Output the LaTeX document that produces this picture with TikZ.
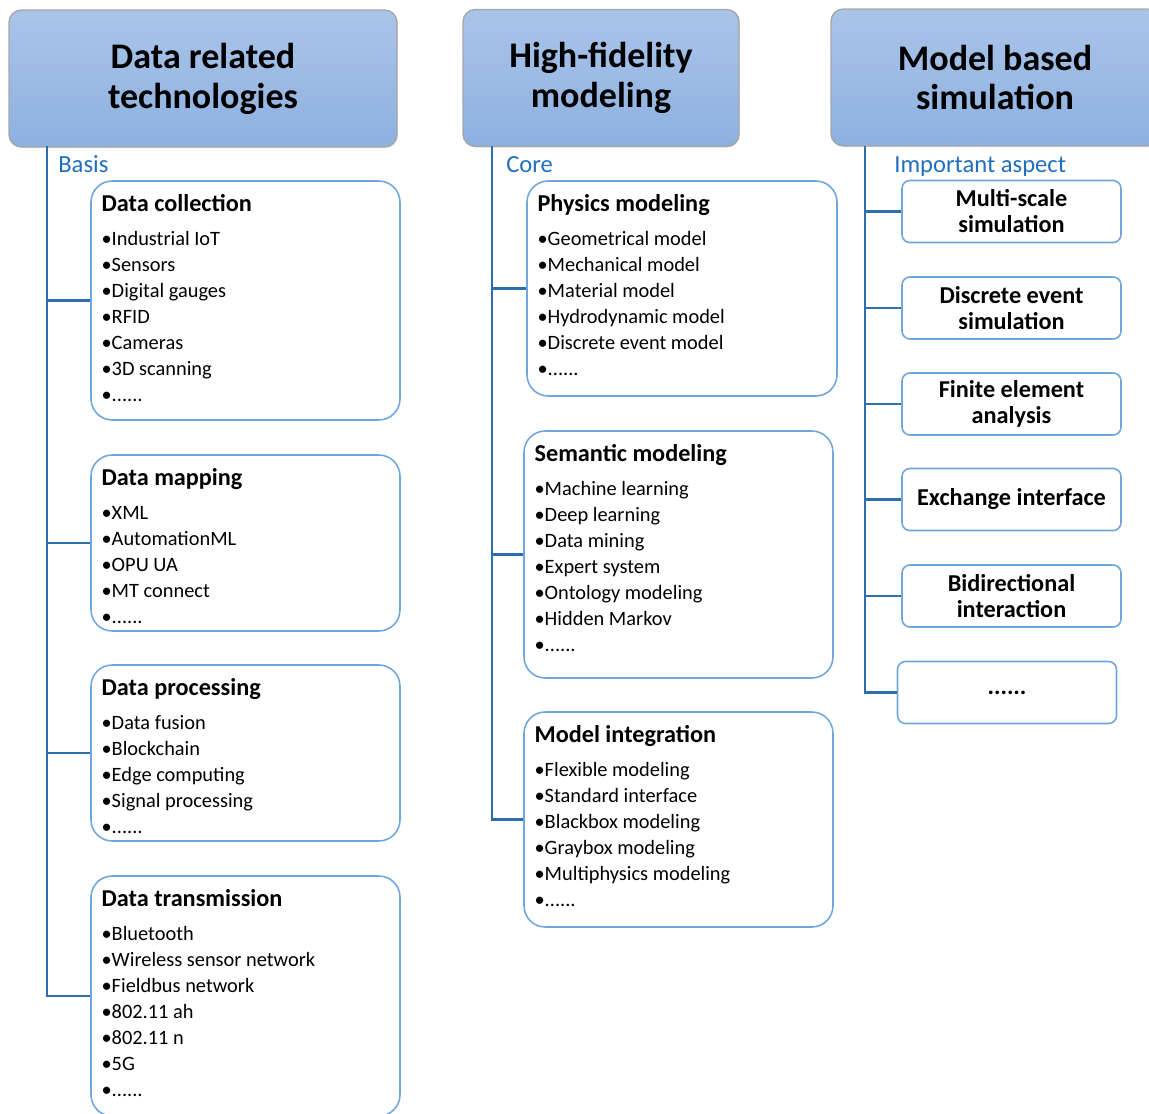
\documentclass[tikz,border=0pt]{standalone}
\usepackage{fontspec}
\setmainfont{Carlito}
\usetikzlibrary{positioning}
\usetikzlibrary{shadows}

\definecolor{headtop}{HTML}{AAC4E9}
\definecolor{headbot}{HTML}{8DB1E0}
\definecolor{boxline}{HTML}{6FA6DC}
\definecolor{treeline}{HTML}{2E6DB0}
\definecolor{labelblue}{HTML}{1F6FC0}

\begin{document}
\begin{tikzpicture}[x=0.02cm,y=-0.02cm,
    head/.style={rectangle,rounded corners=7pt,draw=gray!70,line width=0.8pt,
      top color=headtop,bottom color=headbot,minimum height=2.74cm,
      align=center,font=\fontsize{20.5}{22.7}\selectfont\bfseries,
      drop shadow={opacity=0.2,shadow xshift=0.6pt,shadow yshift=-0.6pt}},
    group/.style={rectangle,rounded corners=12pt,draw=boxline,line width=0.9pt},
    aspect/.style={rectangle,rounded corners=4.5pt,draw=boxline,line width=0.9pt,
      minimum width=4.38cm,minimum height=1.24cm,align=center,
      font=\fontsize{13.8}{14.75}\selectfont\bfseries},
    list/.style={align=left,inner sep=0pt,font=\fontsize{11.6}{14.75}\selectfont},
    tag/.style={anchor=base west,inner sep=0pt,text=labelblue,font=\fontsize{14}{16}\selectfont},
    link/.style={draw=treeline,line width=1.3pt}]
  \useasboundingbox (0,0) rectangle (1149,1114);

  % headers
  \node[head,minimum width=7.76cm] (h1) at (203,78.5) {Data related\\technologies};
  \node[head,minimum width=5.52cm] (h2) at (601,78) {High-fidelity\\modeling};
  \node[head,minimum width=6.56cm] (h3) at (995,77.5) {Model based\\simulation};

  \node[tag] (basis) at (58,173) {Basis};
  \node[tag] (core) at (506,173) {Core};
  \node[tag] (important) at (894,173) {Important aspect};

  % data related technologies
  \node[group,minimum width=6.18cm,minimum height=4.78cm] (dc) at (245.5,300.5) {};
  \node[group,minimum width=6.18cm,minimum height=3.52cm] (dm) at (245.5,543) {};
  \node[group,minimum width=6.18cm,minimum height=3.52cm] (dp) at (245.5,753) {};
  \node[group,minimum width=6.18cm,minimum height=4.8cm] (dt) at (245.5,996) {};

  \node[list,below right=0.28cm and 0.22cm of dc.north west] (dctext)
    {{\fontsize{13.8}{14.75}\selectfont\bfseries Data collection}\\[4.6pt]
     •Industrial IoT\\ •Sensors\\ •Digital gauges\\ •RFID\\ •Cameras\\ •3D scanning\\ •......};
  \node[list,below right=0.28cm and 0.22cm of dm.north west] (dmtext)
    {{\fontsize{13.8}{14.75}\selectfont\bfseries Data mapping}\\[4.6pt]
     •XML\\ •AutomationML\\ •OPU UA\\ •MT connect\\ •......};
  \node[list,below right=0.28cm and 0.22cm of dp.north west] (dptext)
    {{\fontsize{13.8}{14.75}\selectfont\bfseries Data processing}\\[4.6pt]
     •Data fusion\\ •Blockchain\\ •Edge computing\\ •Signal processing\\ •......};
  \node[list,below right=0.28cm and 0.22cm of dt.north west] (dttext)
    {{\fontsize{13.8}{14.75}\selectfont\bfseries Data transmission}\\[4.6pt]
     •Bluetooth\\ •Wireless sensor network\\ •Fieldbus network\\ •802.11 ah\\ •802.11 n\\ •5G\\ •......};

  % high-fidelity modeling
  \node[group,minimum width=6.2cm,minimum height=4.3cm] (pm) at (682,288.5) {};
  \node[group,minimum width=6.18cm,minimum height=4.94cm] (sm) at (678.5,554.5) {};
  \node[group,minimum width=6.18cm,minimum height=4.3cm] (mi) at (678.5,819.5) {};

  \node[list,below right=0.28cm and 0.22cm of pm.north west] (pmtext)
    {{\fontsize{13.8}{14.75}\selectfont\bfseries Physics modeling}\\[4.6pt]
     •Geometrical model\\ •Mechanical model\\ •Material model\\ •Hydrodynamic model\\ •Discrete event model\\ •......};
  \node[list,below right=0.28cm and 0.22cm of sm.north west] (smtext)
    {{\fontsize{13.8}{14.75}\selectfont\bfseries Semantic modeling}\\[4.6pt]
     •Machine learning\\ •Deep learning\\ •Data mining\\ •Expert system\\ •Ontology modeling\\ •Hidden Markov\\ •......};
  \node[list,below right=0.28cm and 0.22cm of mi.north west] (mitext)
    {{\fontsize{13.8}{14.75}\selectfont\bfseries Model integration}\\[4.6pt]
     •Flexible modeling\\ •Standard interface\\ •Blackbox modeling\\ •Graybox modeling\\ •Multiphysics modeling\\ •......};

  % model based simulation
  \node[aspect] (a1) at (1011.5,211.5) {Multi-scale\\simulation};
  \node[aspect] (a2) at (1011.5,308) {Discrete event\\simulation};
  \node[aspect] (a3) at (1011.5,404) {Finite element\\analysis};
  \node[aspect] (a4) at (1011.5,499.5) {Exchange interface};
  \node[aspect] (a5) at (1011.5,596) {Bidirectional\\interaction};
  \node[aspect] (a6) at (1007,692.5) {......};

  % trees
  \coordinate (t1) at (47,146);
  \coordinate (t2) at (492,146);
  \coordinate (t3) at (865,146);
  \foreach \b in {dc,dm,dp,dt}
    \draw[link] (t1) |- (\b.west);
  \foreach \b in {pm,sm,mi}
    \draw[link] (t2) |- (\b.west);
  \foreach \b in {a1,a2,a3,a4,a5,a6}
    \draw[link] (t3) |- (\b.west);
\end{tikzpicture}
\end{document}
